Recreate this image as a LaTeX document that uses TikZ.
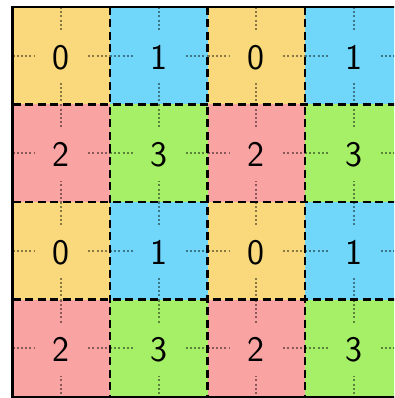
\documentclass[tikz,border=0pt]{standalone}
\definecolor{cyel}{RGB}{250,217,124}
\definecolor{cblu}{RGB}{112,214,250}
\definecolor{cred}{RGB}{249,163,162}
\definecolor{cgrn}{RGB}{166,240,104}
\tikzset{
  cellbox/.style={inner sep=0pt, outer sep=0pt, minimum size=97.5pt, draw=none},
  numbox/.style={inner sep=0pt, outer sep=0pt, minimum size=52pt, font=\sffamily\fontsize{36}{40}\selectfont},
  dotline/.style={draw=black, opacity=0.45, line width=2.2pt, dash pattern=on 2pt off 2.2pt},
  gridline/.style={draw=black, line width=2.8pt, dash pattern=on 8pt off 4.5pt},
  border/.style={draw=black, line width=2.2pt}
}
\begin{document}
\begin{tikzpicture}[x=1pt,y=-1pt]
\useasboundingbox (0,0) rectangle (394,398);
\fill[white] (0,0) rectangle (394,398);
\clip (0,0) rectangle (394,398);
\foreach \r in {0,1,2,3}{
  \foreach \c in {0,1,2,3}{
    \pgfmathtruncatemacro{\v}{2*mod(\r,2)+mod(\c,2)}
    \ifcase\v \def\col{cyel}\or \def\col{cblu}\or \def\col{cred}\or \def\col{cgrn}\fi
    \node[cellbox, fill=\col] (c\r\c) at ({12.5+97.5*\c+48.75},{7+97.5*\r+48.75}) {};
    \draw[dotline] (c\r\c.north) -- (c\r\c.south);
    \draw[dotline] (c\r\c.west) -- (c\r\c.east);
    \node[numbox, fill=\col] (n\r\c) at ([yshift=-1.5pt]c\r\c.center) {\v};
  }
}
\draw[gridline] (c00.north east) -- (c30.south east);
\draw[gridline] (c01.north east) -- (c31.south east);
\draw[gridline] (c02.north east) -- (c32.south east);
\draw[gridline] (c00.south west) -- (c03.south east);
\draw[gridline] (c10.south west) -- (c13.south east);
\draw[gridline] (c20.south west) -- (c23.south east);
\draw[border] (c00.north west) rectangle (c33.south east);
\end{tikzpicture}
\end{document}
